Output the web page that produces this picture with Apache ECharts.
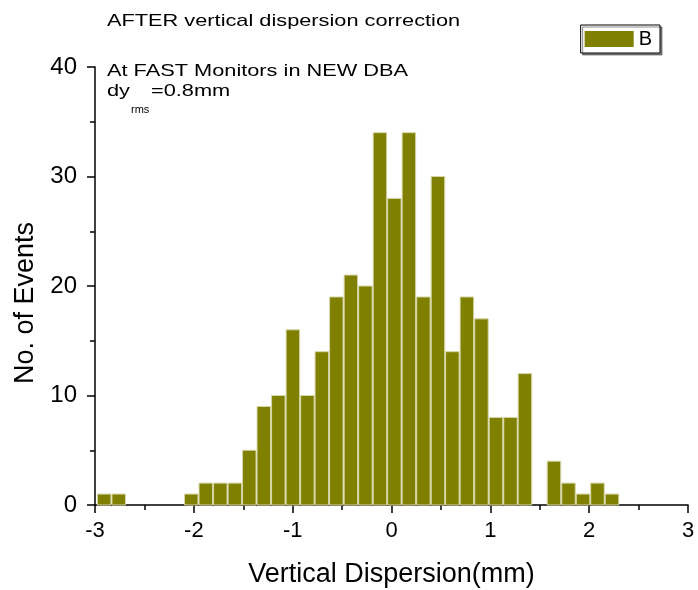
<!DOCTYPE html>
<html>
<head>
<meta charset="utf-8">
<script src="https://cdn.jsdelivr.net/npm/echarts@6/dist/echarts.min.js"></script>
<style>html,body{margin:0;padding:0;background:#fff}#c{width:698px;height:590px}</style>
</head>
<body>
<div id="c"></div>
<script>
// Histogram bin centres (mm) and bin width
const binCenters = [-2.907,-2.760,-2.613,-2.466,-2.319,-2.173,-2.026,-1.879,-1.732,-1.585,
  -1.439,-1.292,-1.145,-0.998,-0.851,-0.705,-0.558,-0.411,-0.264,-0.117,
  0.029,0.176,0.323,0.470,0.616,0.763,0.910,1.057,1.204,1.350,
  1.497,1.644,1.791,1.938,2.084,2.231];
const binWidth = 0.1468;
// Counts per bin (series B)
const counts = [1,1,0,0,0,0,1,2,2,2,
  5,9,10,16,10,14,19,21,20,34,
  28,34,19,30,14,19,17,8,8,12,
  0,4,2,1,2,1];
const xTicks = [-3,-2,-1,0,1,2,3];
const yTicks = [0,10,20,30,40];
const seriesName = 'B';

const FONT = '"Liberation Sans", Arial, sans-serif';
const OLIVE = '#808000';
const SX = 1.28; // horizontal stretch of annotation text

const chart = echarts.init(document.getElementById('c'), null, {renderer: 'canvas'});
const data = binCenters.map((c, i) => [c, counts[i]]);

function txt(x, y, s, size, sx) {
  return {type: 'text', x: x, y: y, scaleX: sx || SX, scaleY: 1,
    style: {text: s, font: size + 'px ' + FONT, fill: '#000', textVerticalAlign: 'top', verticalAlign: 'top'}};
}

chart.setOption({
  animation: false,
  backgroundColor: '#fff',
  grid: {left: 95, right: 10, top: 67, bottom: 85, containLabel: false, outerBoundsMode: 'none'},
  xAxis: {
    type: 'value', min: xTicks[0], max: xTicks[xTicks.length - 1], interval: 1,
    name: 'Vertical Dispersion(mm)', nameLocation: 'middle', nameGap: 56,
    nameTextStyle: {fontFamily: FONT, fontSize: 27, color: '#000'},
    axisLine: {show: true, onZero: false, lineStyle: {color: '#000', width: 1.5}},
    axisTick: {show: true, inside: false, length: 8, lineStyle: {color: '#000', width: 1.5}},
    minorTick: {show: true, splitNumber: 2, length: 5, lineStyle: {color: '#000', width: 1.5}},
    axisLabel: {fontFamily: FONT, fontSize: 22, color: '#000', margin: 15},
    splitLine: {show: false}
  },
  yAxis: {
    type: 'value', min: yTicks[0], max: yTicks[yTicks.length - 1], interval: 10,
    name: 'No. of Events', nameLocation: 'middle', nameGap: 55,
    nameTextStyle: {fontFamily: FONT, fontSize: 27, color: '#000', padding: [0, 34, 0, 0]},
    axisLine: {show: true, onZero: false, lineStyle: {color: '#000', width: 1.5}},
    axisTick: {show: true, inside: false, length: 8, lineStyle: {color: '#000', width: 1.5}},
    minorTick: {show: true, splitNumber: 2, length: 5, lineStyle: {color: '#000', width: 1.5}},
    axisLabel: {fontFamily: FONT, fontSize: 24, color: '#000', margin: 18},
    splitLine: {show: false}
  },
  legend: {
    right: 38, top: 25, orient: 'vertical',
    data: [seriesName],
    icon: 'rect', itemWidth: 49, itemHeight: 16, itemGap: 6,
    padding: [4, 8, 4, 4],
    borderColor: '#000', borderWidth: 1, backgroundColor: '#fff',
    shadowColor: 'rgba(0,0,0,0.45)', shadowOffsetX: 2, shadowOffsetY: 2, shadowBlur: 0,
    textStyle: {fontFamily: FONT, fontSize: 20, color: '#000', padding: [2, 0, 0, 0]}
  },
  graphic: [
    txt(107, 13, 'AFTER vertical dispersion correction', 17),
    txt(107, 63, 'At FAST Monitors in NEW DBA', 17),
    txt(107, 83, 'dy', 17),
    txt(131, 104, 'rms', 11, 1),
    txt(151, 83, '=0.8mm', 17)
  ],
  series: [{
    name: seriesName,
    type: 'custom',
    itemStyle: {color: OLIVE},
    data: data,
    renderItem: function (params, api) {
      const c = api.value(0), v = api.value(1);
      if (!v) return null;
      const p0 = api.coord([c - binWidth / 2, 0]);
      const p1 = api.coord([c + binWidth / 2, v]);
      return {
        type: 'rect',
        shape: {x: p0[0] + 0.5, y: p1[1], width: p1[0] - p0[0] - 1, height: p0[1] - p1[1]},
        style: {fill: OLIVE, stroke: '#d6d6a8', lineWidth: 1}
      };
    },
    encode: {x: 0, y: 1}
  }]
});
</script>
</body>
</html>
